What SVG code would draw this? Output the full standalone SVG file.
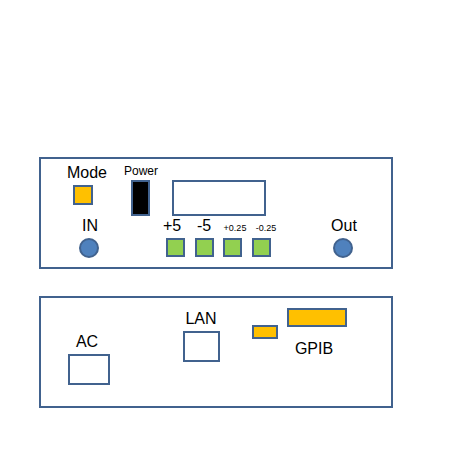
<svg xmlns="http://www.w3.org/2000/svg" width="460" height="460" viewBox="0 0 460 460">
<style>
.b{fill:#fff;stroke:#41628E;stroke-width:2}
.o{fill:#FFC000;stroke:#41628E;stroke-width:2}
.g{fill:#92D050;stroke:#41628E;stroke-width:2}
.c{fill:#4F81BD;stroke:#41628E;stroke-width:2}
.k{fill:#000;stroke:#41628E;stroke-width:2}
text{font-family:"Liberation Sans",Arial,sans-serif;fill:#000;text-anchor:middle}
.l{font-size:16px}
.s{font-size:12px}
.t{font-size:9px}
</style>
<rect width="460" height="460" fill="#fff"/>
<g id="front-panel">
<rect class="b" x="40" y="158" width="352" height="110"/>
</g>
<g id="mode"><text class="l" x="87" y="178">Mode</text><rect class="o" x="74" y="186" width="18" height="18"/></g>
<g id="power"><text class="s" x="141" y="175">Power</text><rect class="k" x="132" y="181" width="17" height="34"/></g>
<g id="display"><rect class="b" x="173" y="181" width="92" height="34"/></g>
<g id="in"><text class="l" x="90" y="231">IN</text><circle class="c" cx="89" cy="248" r="9"/></g>
<g id="btn-p5"><text class="l" x="172" y="231">+5</text><rect class="g" x="167" y="239" width="17" height="17"/></g>
<g id="btn-m5"><text class="l" x="204" y="231">-5</text><rect class="g" x="196" y="239" width="17" height="17"/></g>
<g id="btn-p025"><text class="t" x="235" y="231">+0.25</text><rect class="g" x="224" y="239" width="17" height="17"/></g>
<g id="btn-m025"><text class="t" x="266" y="231">-0.25</text><rect class="g" x="253" y="239" width="17" height="17"/></g>
<g id="out"><text class="l" x="344" y="231">Out</text><circle class="c" cx="343" cy="248" r="9"/></g>
<g id="back-panel">
<rect class="b" x="40" y="297" width="352" height="110"/>
</g>
<g id="ac"><text class="l" x="87" y="347">AC</text><rect class="b" x="69" y="355" width="40" height="29"/></g>
<g id="lan"><text class="l" x="201" y="324">LAN</text><rect class="b" x="184" y="332" width="35" height="29"/></g>
<g id="gpib"><rect class="o" x="253" y="326" width="24" height="12"/><rect class="o" x="288" y="309" width="58" height="17"/><text class="l" x="314" y="354">GPIB</text></g>
<g id="connectors"></g>
</svg>
